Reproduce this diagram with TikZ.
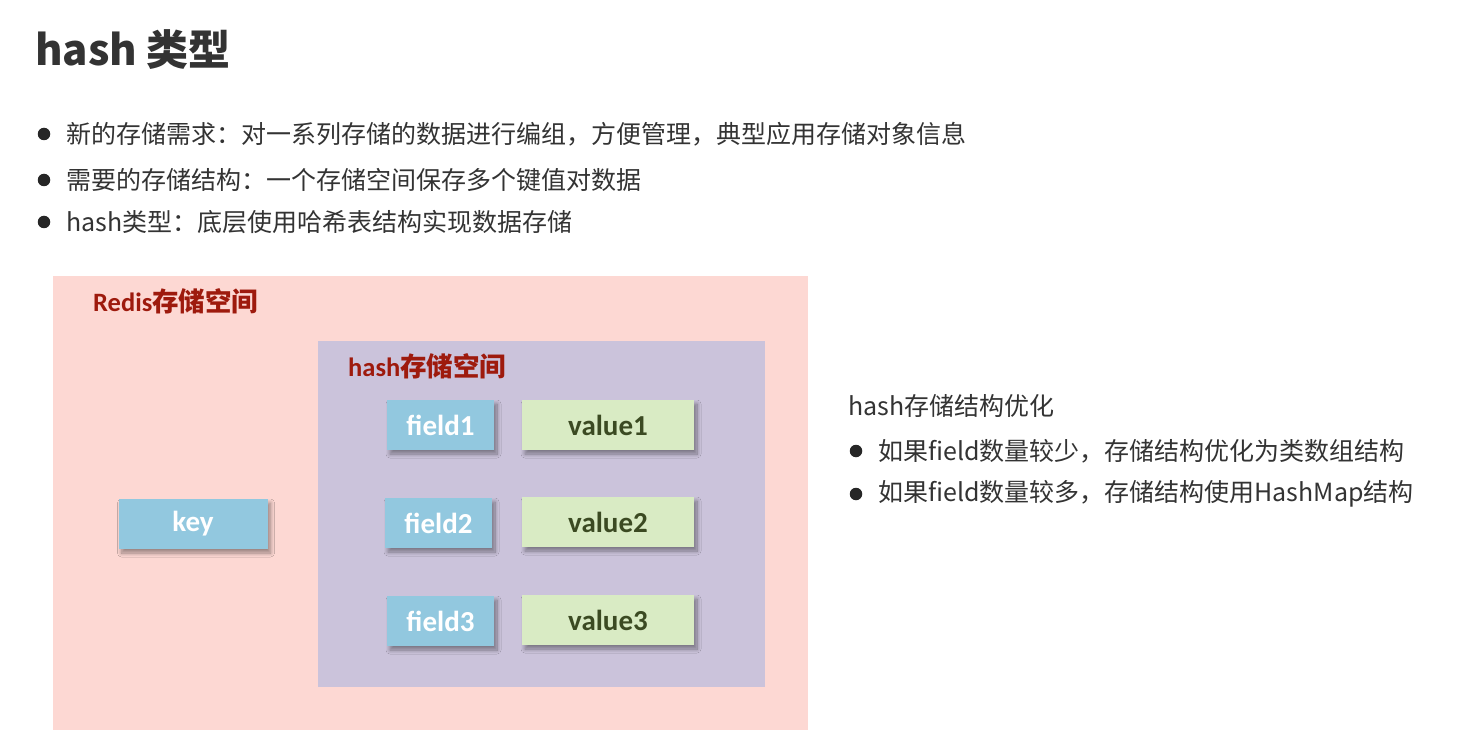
\documentclass[tikz,border=0pt]{standalone}
\usepackage{fontspec}
\setmainfont{Noto Sans CJK SC}
\newfontfamily\calfont{Carlito}
\usetikzlibrary{shadows.blur}
\definecolor{textgray}{HTML}{333333}
\definecolor{redisbg}{HTML}{FDD8D3}
\definecolor{hashbg}{HTML}{CBC3DB}
\definecolor{bluebox}{HTML}{92C8DF}
\definecolor{greenbox}{HTML}{D9EBC4}
\definecolor{labelred}{HTML}{9E1A0D}
\definecolor{valtext}{HTML}{3B4A22}
\tikzset{
  txt/.style={anchor=west, inner sep=0pt, text=textgray, font=\fontsize{25}{28}\selectfont},
  dot/.style={circle, fill=black!85, inner sep=0pt, minimum size=12.5pt},
  panel/.style={anchor=north west, inner sep=0pt},
  boxshadow/.style={blur shadow={shadow xshift=3pt, shadow yshift=-4pt, shadow blur radius=4pt, shadow blur steps=10, shadow opacity=40}},
  fieldbox/.style={fill=bluebox, boxshadow, minimum width=107pt, minimum height=50pt, inner sep=0pt,
    text=white, font=\calfont\bfseries\fontsize{29}{32}\selectfont},
  valuebox/.style={fill=greenbox, boxshadow, minimum width=172pt, minimum height=50pt, inner sep=0pt,
    text=valtext, font=\calfont\bfseries\fontsize{29}{32}\selectfont},
  spacelabel/.style={anchor=west, inner sep=0pt, text=labelred, font=\bfseries\fontsize{26.5}{30}\selectfont}
}
\begin{document}
\begin{tikzpicture}[x=1pt, y=-1pt]
\useasboundingbox[fill=white] (0,0) rectangle (1475,746);
% title
\node[anchor=west, inner sep=0pt, text=textgray, font=\bfseries\fontsize{42}{46}\selectfont] (title) at (35,50) {hash 类型};
% bullets
\node[dot] (d1) at (44,134) {};
\node[txt] (t1) at (66,134) {新的存储需求：对一系列存储的数据进行编组，方便管理，典型应用存储对象信息};
\node[dot] (d2) at (44,180) {};
\node[txt] (t2) at (66,180) {需要的存储结构：一个存储空间保存多个键值对数据};
\node[dot] (d3) at (44,222) {};
\node[txt] (t3) at (66,222) {hash类型：底层使用哈希表结构实现数据存储};
% diagram
\node[panel, fill=redisbg, minimum width=755pt, minimum height=454pt] (redis) at (53,276) {};
\node[spacelabel] (redislbl) at (93,301) {{\calfont Redis}存储空间};
\node[panel, fill=hashbg, minimum width=447pt, minimum height=346pt] (hash) at (318,341) {};
\node[spacelabel] (hashlbl) at (348,366) {{\calfont hash}存储空间};
\node[fieldbox] (f1) at (440.5,425) {field1};
\node[valuebox] (v1) at (608,425) {value1};
\node[fieldbox] (f2) at (438.5,523) {field2};
\node[valuebox] (v2) at (608,522) {value2};
\node[fieldbox] (f3) at (440.5,621) {field3};
\node[valuebox] (v3) at (608,620) {value3};
\node[fieldbox, minimum width=149pt] (key) at (193,524) {key};
% right text
\node[txt] (opt) at (848,406) {hash存储结构优化};
\node[dot] (d4) at (856,451) {};
\node[txt] (o1) at (878,451) {如果field数量较少，存储结构优化为类数组结构};
\node[dot] (d5) at (856,494) {};
\node[txt] (o2) at (878,494) {如果field数量较多，存储结构使用HashMap结构};
\end{tikzpicture}
\end{document}
